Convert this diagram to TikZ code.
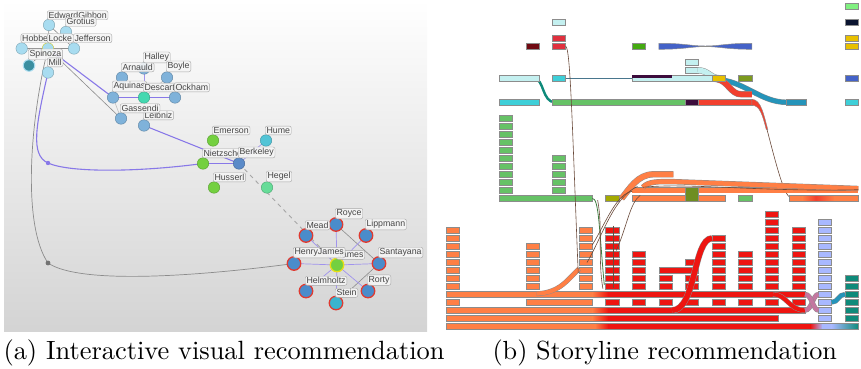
\documentclass[tikz,border=0pt]{standalone}
\usepackage{fontspec}
\setsansfont{Liberation Sans}
\usetikzlibrary{calc}
\pgfdeclarelayer{bg}
\pgfdeclarelayer{edges}
\pgfsetlayers{bg,edges,main}

% storyline colours
\definecolor{sorange}{HTML}{FF7F45}
\definecolor{sred}{HTML}{EE1511}
\definecolor{sred2}{HTML}{F2402E}
\definecolor{sgreen}{HTML}{66C266}
\definecolor{slcyan}{HTML}{C4F0F0}
\definecolor{scyan}{HTML}{3ECFD8}
\definecolor{scrimson}{HTML}{E0303E}
\definecolor{smaroon}{HTML}{700A12}
\definecolor{sblue}{HTML}{4462C8}
\definecolor{slblue}{HTML}{A8B8FF}
\definecolor{steal}{HTML}{0E8A7A}
\definecolor{syellow}{HTML}{E8C000}
\definecolor{solive}{HTML}{7C9A1E}
\definecolor{solivey}{HTML}{A4AA00}
\definecolor{sdolive}{HTML}{6E8E22}
\definecolor{snavy}{HTML}{0A1430}
\definecolor{slgreen}{HTML}{80F080}
\definecolor{sdpurple}{HTML}{3C0C3C}
\definecolor{stblue}{HTML}{2594BA}
\definecolor{sgreen2}{HTML}{44AA11}
\definecolor{blkline}{HTML}{8C8C8C}
\definecolor{thread}{HTML}{6A4A3A}
% graph colours
\definecolor{pA}{HTML}{A8DCF0}
\definecolor{pB}{HTML}{7FB2DA}
\definecolor{pC}{HTML}{44D8B0}
\definecolor{pG}{HTML}{74D040}
\definecolor{pH}{HTML}{52C4D6}
\definecolor{pK}{HTML}{5A8AC8}
\definecolor{pM}{HTML}{66DC98}
\definecolor{pR}{HTML}{4A8CCB}
\definecolor{pS}{HTML}{3CB4CE}
\definecolor{pT}{HTML}{3A8EA0}
\definecolor{ring}{HTML}{E03A30}
\definecolor{edgeP}{HTML}{8878E8}

\tikzset{
  lbl/.style={draw=black!35, fill=black!4, fill opacity=0.9, text opacity=1,
    rounded corners=2pt, inner xsep=1.3pt, inner ysep=1.3pt,
    font=\sffamily\fontsize{8.8}{10}\selectfont, text=black!72, anchor=south west},
  pnode/.style={circle, inner sep=0pt, minimum size=11.5pt, draw=#1!75!black, fill=#1, line width=0.4pt},
  rnode/.style={circle, inner sep=0pt, minimum size=13.5pt, draw=ring, fill=#1, line width=1.3pt},
  pedge/.style={draw=edgeP, line width=1.1pt},
  tedge/.style={draw=edgeP!80, line width=0.7pt},
  gedge/.style={draw=black!45, line width=0.6pt},
  thin thread/.style={draw=thread, line width=0.6pt},
  caption/.style={inner sep=0pt, anchor=base west},
}

% storyline helpers (grid units: one column, one row)
\newcommand\blk[3]{\filldraw[fill=#3, draw=blkline, line width=0.5pt] (#1,#2) rectangle ++(0.5,0.75);}
\newcommand\blkcol[4]{\foreach \jj in {#2,...,#3}{\blk{#1}{\jj}{#4}}}
\newcommand\sbar[4]{\filldraw[fill=#4, draw=blkline, line width=0.5pt] (#1,#3) rectangle (#2,#3+0.75);}
\newcommand\tbar[5]{\shade[left color=#4, right color=#5] (#1,#3) rectangle (#2,#3+0.75);}
\newcommand\band[3][5.4pt]{\draw[blkline, line width=#1+0.9pt] #3; \draw[#2, line width=#1] #3;}

\begin{document}
\begin{tikzpicture}[x=1pt,y=-1pt]
\useasboundingbox (0,0) rectangle (861,369);

% ---------------- interactive graph ----------------
\begin{pgfonlayer}{bg}
  \shade[top color=white, bottom color=black!17] (4,0) rectangle (427,331);
\end{pgfonlayer}

\node[pnode=pA] (gibbon) at (49,25) {};
\node[pnode=pA] (grotius) at (66,32) {};
\node[pnode=pA] (hobbes) at (21.7,48.5) {};
\node[pnode=pA, draw=yellow!80!black] (locke) at (48,48.5) {};
\node[pnode=pA] (jefferson) at (74,48.5) {};
\node[pnode=pT, draw=pA, line width=1pt] (spinoza) at (29,65.5) {};
\node[pnode=pA] (mill) at (48,72.5) {};
\node[pnode=pB] (halley) at (144,68.5) {};
\node[pnode=pB] (arnauld) at (122,77.5) {};
\node[pnode=pB] (boyle) at (167,77.5) {};
\node[pnode=pB] (aquinas) at (113,97.5) {};
\node[pnode=pC] (descart) at (144,97.5) {};
\node[pnode=pB] (ockham) at (175,97.5) {};
\node[pnode=pB] (gassendi) at (121,118.5) {};
\node[pnode=pB] (leibniz) at (144,125.5) {};
\node[pnode=pG] (emerson) at (213,140.5) {};
\node[pnode=pH] (hume) at (266,140.5) {};
\node[pnode=pG] (nietzsche) at (203,163.5) {};
\node[pnode=pK] (berkeley) at (239,163.5) {};
\node[pnode=pG] (husserl) at (214,187.5) {};
\node[pnode=pM] (hegel) at (267,187.5) {};
\node[rnode=pR] (royce) at (336,224.5) {};
\node[rnode=pR] (mead) at (306,235.5) {};
\node[rnode=pR] (lippmann) at (366,235.5) {};
\node[rnode=pR] (henry) at (294,263.5) {};
\node[rnode=pG, draw=yellow!90!black] (james) at (337,265) {};
\node[rnode=pR] (santayana) at (379,263.5) {};
\node[rnode=pR] (helmholtz) at (306,291) {};
\node[rnode=pR] (rorty) at (368,291) {};
\node[rnode=pS] (stein) at (336,303) {};
\coordinate (bend1) at (48,163);
\coordinate (bend2) at (48,263);

\begin{pgfonlayer}{edges}
  \draw[gedge] (gibbon.center) -- (jefferson.center);
  \draw[gedge] (gibbon.center) -- (locke.center);
  \draw[gedge] (hobbes.center) -- (jefferson.center);
  \draw[gedge] (spinoza.center) -- (locke.center);
  \draw[gedge] (locke.center) -- (gassendi.center);
  \draw[gedge, black!25] (aquinas.center) -- (gassendi.center);
  \draw[gedge, black!25] (arnauld.center) -- (aquinas.center);
  \draw[gedge, black!25] (descart.center) -- (leibniz.center);
  \draw[gedge, black!25] (boyle.center) -- (descart.center);
  \draw[tedge] (halley.center) -- (descart.center);
  \draw[pedge] (locke.center) -- (aquinas.center);
  \draw[pedge] (aquinas.center) -- (descart.center) -- (ockham.center);
  \draw[pedge] (leibniz.center) -- (berkeley.center);
  \draw[tedge] (berkeley.center) -- (hume.center);
  \draw[pedge] (mill.center) .. controls (36,125) and (30,155) .. (bend1)
        .. controls (70,173) and (140,172) .. (nietzsche.center);
  \draw[pedge, line width=1.8pt] (nietzsche.center) -- (berkeley.center);
  \draw[gedge, line width=0.7pt] (locke.center) .. controls (30,120) and (22,225) .. (bend2)
        .. controls (80,285) and (200,276) .. (henry.center);
  \draw[black!35, line width=0.9pt, dash pattern=on 4pt off 4pt] (berkeley.center) -- (james.center);
  \draw[gedge] (royce.center) -- (santayana.center);
  \draw[gedge] (santayana.center) -- (stein.center);
  \foreach \n in {royce, mead, lippmann, henry, santayana, helmholtz, rorty, stein}
    \draw[tedge] (james.center) -- (\n.center);
\end{pgfonlayer}
\fill[edgeP] (bend1) circle (2.2pt);
\fill[black!55] (bend2) circle (2.4pt);

\node[lbl] (gibbon-l) at ($(gibbon)+(-2,-5)$) {EdwardGibbon};
\node[lbl] (grotius-l) at ($(grotius)+(-1,-5.5)$) {Grotius};
\node[lbl] (hobbes-l) at ($(hobbes)+(-1,-5.5)$) {Hobbes};
\node[lbl] (locke-l) at ($(locke)+(-1,-5.5)$) {Locke};
\node[lbl] (jefferson-l) at ($(jefferson)+(-1,-5.5)$) {Jefferson};
\node[lbl] (spinoza-l) at ($(spinoza)+(-1,-5.5)$) {Spinoza};
\node[lbl] (mill-l) at ($(mill)+(-1,-5.5)$) {Mill};
\node[lbl] (arnauld-l) at ($(arnauld)+(-1,-5.5)$) {Arnauld};
\node[lbl] (halley-l) at ($(halley)+(-1,-5.5)$) {Halley};
\node[lbl] (boyle-l) at ($(boyle)+(-1,-5.5)$) {Boyle};
\node[lbl] (aquinas-l) at ($(aquinas)+(-1,-5.5)$) {Aquinas};
\node[lbl] (descart-l) at ($(descart)+(-1,-5.5)$) {Descartes};
\node[lbl] (ockham-l) at ($(ockham)+(-1,-5.5)$) {Ockham};
\node[lbl] (leibniz-l) at ($(leibniz)+(-1,-5.5)$) {Leibniz};
\node[lbl] (gassendi-l) at ($(gassendi)+(-1,-5.5)$) {Gassendi};
\node[lbl] (emerson-l) at ($(emerson)+(-1,-5.5)$) {Emerson};
\node[lbl] (hume-l) at ($(hume)+(-1,-5.5)$) {Hume};
\node[lbl] (nietzsche-l) at ($(nietzsche)+(-1,-5.5)$) {Nietzsche};
\node[lbl] (berkeley-l) at ($(berkeley)+(-1,-5.5)$) {Berkeley};
\node[lbl] (husserl-l) at ($(husserl)+(-1,-5.5)$) {Husserl};
\node[lbl] (hegel-l) at ($(hegel)+(-1,-5.5)$) {Hegel};
\node[lbl] (royce-l) at ($(royce)+(-1,-5.5)$) {Royce};
\node[lbl] (mead-l) at ($(mead)+(-1,-5.5)$) {Mead};
\node[lbl] (lippmann-l) at ($(lippmann)+(-1,-5.5)$) {Lippmann};
\node[lbl] (james-l) at ($(james)+(-1,-5.5)$) {James};
\node[lbl] (henry-l) at ($(henry)+(-1,-5.5)$) {HenryJames};
\node[lbl] (santayana-l) at ($(santayana)+(-1,-5.5)$) {Santayana};
\node[lbl] (helmholtz-l) at ($(helmholtz)+(-1,-5.5)$) {Helmholtz};
\node[lbl] (rorty-l) at ($(rorty)+(-1,-5.5)$) {Rorty};
\node[lbl] (stein-l) at ($(stein)+(-1,-5.5)$) {Stein};

% ---------------- storyline ----------------
\begin{scope}[shift={(446,227.3)}, x=26.6pt, y=-8pt]
  % top rows
  \blk{4}{-26}{slcyan}
  \blk{4}{-24}{scrimson}
  \blk{4}{-23}{scrimson}
  \blk{3}{-23}{smaroon}
  \blk{7}{-23}{sgreen2}
  \filldraw[fill=sblue, draw=blkline, line width=0.5pt]
    (8,-23) .. controls (9,-23) and (9.2,-22.66) .. (9.75,-22.66)
    .. controls (10.3,-22.66) and (10.5,-23) .. (11.5,-23) -- (11.5,-22.25)
    .. controls (10.5,-22.25) and (10.3,-22.59) .. (9.75,-22.59)
    .. controls (9.2,-22.59) and (9,-22.25) .. (8,-22.25) -- cycle;
  \blk{9}{-21}{slcyan}
  \blk{9}{-20}{slcyan}
  % row -19
  \draw[steal, line width=2.4pt] (3.3,-18.625) .. controls (3.7,-18.6) and (3.6,-15.625) .. (4.1,-15.625);
  \sbar{2}{3.5}{-19}{slcyan}
  \draw[black!50!cyan, line width=1pt] (4.5,-18.625) -- (7,-18.625);
  \blk{4}{-19}{scyan}
  \band[4.5pt]{stblue}{(10.1,-18.5) .. controls (11.2,-18.4) and (11.8,-15.625) .. (12.8,-15.625)}
  \band{sred2}{(10.2,-18.5) .. controls (10.6,-18.3) and (10.7,-16.625) .. (11.1,-16.625) -- (11.5,-16.625)}
  \band{slcyan}{(9.45,-19.625) .. controls (9.9,-19.625) and (9.9,-18.625) .. (10.3,-18.625)}
  \sbar{7}{10.2}{-19}{slcyan}
  \fill[sdpurple] (7,-19) rectangle (8.5,-18.7);
  \blk{10}{-19}{syellow}
  \blk{11}{-19}{solive}
  % row -16
  \sbar{2}{3.5}{-16}{scyan}
  \sbar{4}{9}{-16}{sgreen}
  \blk{9}{-16}{sdpurple}
  \sbar{9.5}{11.5}{-16}{sred2}
  \sbar{12.8}{13.55}{-16}{stblue}
  \filldraw[fill=sred2, draw=blkline, line width=0.4pt]
    (11.5,-16) .. controls (11.85,-16) and (11.95,-14) .. (12.1,-12.2) -- (12.04,-12.2)
    .. controls (11.9,-14) and (11.8,-15.25) .. (11.5,-15.25) -- cycle;
  \draw[thin thread] (12.07,-12.2) .. controls (12.4,-8) and (12.7,-4) .. (12.95,-3.7);
  % right column
  \blk{15}{-28}{slgreen}
  \blk{15}{-26}{snavy}
  \blk{15}{-24}{syellow}
  \blk{15}{-23}{syellow}
  \blk{15}{-19}{sblue}
  \blk{15}{-16}{scyan}
  % green groups
  \blkcol{2}{-14}{-5}{sgreen}
  \blkcol{4}{-9}{-5}{sgreen}
  \sbar{2}{5.5}{-4}{sgreen}
  \draw[sgreen!65!black, line width=0.8pt] (5.5,-3.625) .. controls (5.75,-3.6) and (5.75,0) .. (5.95,7.2);
  \blk{6}{-4}{solivey}
  % upper orange bands
  \band{sorange}{(7,-4.625) -- (15.5,-4.625)}
  \band[4.5pt]{sorange}{(7.4,-5.0) .. controls (7.6,-5.7) and (7.9,-5.75) .. (8.6,-5.7) -- (15.5,-4.85)}
  \band{sorange}{(6.6,-3.6) .. controls (6.9,-4.8) and (7.2,-6.625) .. (7.8,-6.625) -- (8.55,-6.625)}
  \sbar{7}{10.5}{-4}{sorange}
  \filldraw[fill=sdolive, draw=blkline, line width=0.5pt] (9,-5) rectangle (9.5,-3.25);
  \blk{11}{-4}{sgreen}
  \fill[sorange] (12.9,-4) rectangle (13.4,-3.25);
  \tbar{13.4}{13.9}{-4}{sorange}{sred2}
  \tbar{13.9}{14.6}{-4}{sred2}{sorange}
  \fill[sorange] (14.6,-4) rectangle (15.5,-3.25);
  \draw[blkline, line width=0.5pt] (12.9,-4) rectangle (15.5,-3.25);
  \draw[thin thread] (7.4,-5.0) .. controls (9,-5.6) and (12,-4.4) .. (15.5,-4.7);
  % lower rows: long bands
  \fill[sorange] (0,8) rectangle (5.5,8.75);
  \tbar{5.5}{6.1}{8}{sorange}{sred}
  \fill[sred] (6.1,8) rectangle (13.5,8.75);
  \draw[blkline, line width=0.5pt] (0,8) rectangle (13.5,8.75);
  \fill[sorange] (0,10) rectangle (5.5,10.75);
  \tbar{5.5}{6.1}{10}{sorange}{sred}
  \fill[sred] (6.1,10) rectangle (13.5,10.75);
  \draw[blkline, line width=0.5pt] (0,10) rectangle (13.5,10.75);
  \fill[sorange] (0,11) rectangle (5.5,11.75);
  \tbar{5.5}{6.1}{11}{sorange}{sred}
  \fill[sred] (6.1,11) rectangle (12.5,11.75);
  \draw[blkline, line width=0.5pt] (0,11) rectangle (12.5,11.75);
  \fill[sorange] (0,12) rectangle (5.6,12.75);
  \tbar{5.6}{6.1}{12}{sorange}{sred}
  \fill[sred] (6.1,12) rectangle (13.7,12.75);
  \tbar{13.7}{14.15}{12}{sred}{slblue}
  \fill[slblue] (14.15,12) rectangle (14.5,12.75);
  \tbar{14.5}{15.5}{12}{slblue}{steal}
  \draw[blkline, line width=0.5pt] (0,12) rectangle (15.5,12.75);
  \sbar{3}{5.5}{9}{sorange}
  % orange blocks
  \blkcol{0}{0}{7}{sorange}
  \blk{0}{9}{sorange}
  \blkcol{3}{2}{7}{sorange}
  \blkcol{5}{0}{7}{sorange}
  \band[4pt]{sorange}{(3.4,8.3) .. controls (4.3,8.2) and (4.6,6.4) .. (5,5.2)}
  % red blocks
  \blkcol{6}{0}{7}{sred}  \blk{6}{9}{sred}
  \blkcol{7}{3}{7}{sred}  \blk{7}{9}{sred}
  \blkcol{8}{6}{7}{sred}  \blk{8}{9}{sred}
  \sbar{8}{9.5}{5}{sred}
  \blkcol{9}{6}{7}{sred}  \blk{9}{4}{sred} \blk{9}{9}{sred}
  \blkcol{10}{1}{7}{sred} \blk{10}{9}{sred}
  \blkcol{11}{3}{7}{sred} \blk{11}{9}{sred}
  \blkcol{12}{-2}{7}{sred} \blk{12}{9}{sred}
  \blkcol{13}{0}{7}{sred} \blk{13}{9}{sred}
  \blkcol{14}{-1}{11}{slblue}
  \blkcol{15}{6}{11}{steal}
  % crossings
  \band{sred}{(8.5,10.375) .. controls (9.4,10.375) and (9.3,1.375) .. (10,1.375)}
  \band[4pt]{sred}{(12.3,8.375) .. controls (12.8,8.375) and (12.9,10.375) .. (13.5,10.375)}
  \band[4pt]{slblue!60!sred}{(13.5,10.375) .. controls (13.75,10.375) and (13.8,8.375) .. (14,8.375)}
  \band[4pt]{slblue!60!sred}{(13.5,8.375) .. controls (13.75,8.375) and (13.8,10.375) .. (14,10.375)}
  \band[4pt]{stblue}{(14.5,9.375) .. controls (14.75,9.375) and (14.75,8.375) .. (15,8.375)}
  % character threads
  \draw[thin thread] (4.5,-22.625) .. controls (4.68,-22.5) and (4.75,-12) .. (4.97,5.7);
  \draw[thin thread] (5.5,2.2) .. controls (6,-0.5) and (6.4,-4.2) .. (7,-4.5);
  \draw[thin thread] (5.3,4.4) .. controls (5.9,1) and (6.3,-3.8) .. (7.2,-5.1);
  \draw[thin thread] (6.4,2.9) .. controls (6.8,0) and (6.9,-3) .. (7.3,-4.0);
  \draw[thin thread] (6.3,-0.2) -- (6.3,7.6);
  \draw[thin thread] (5.7,-3.4) .. controls (5.9,0) and (5.7,4) .. (5.9,7.7);
\end{scope}

% ---------------- captions ----------------
\node[caption, scale=2.64] (capa) at (3,359) {(a) Interactive visual recommendation};
\node[caption, scale=2.62] (capb) at (492,359) {(b) Storyline recommendation};
\end{tikzpicture}
\end{document}
